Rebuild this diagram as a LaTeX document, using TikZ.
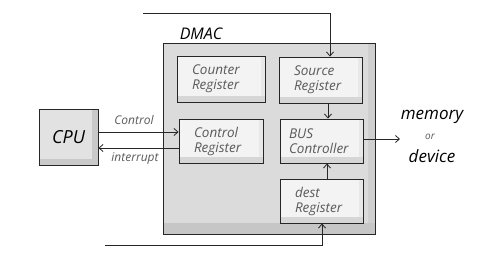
\documentclass[tikz,border=0pt]{standalone}
\usepackage{fontspec}
\setmainfont{Open Sans}
\usetikzlibrary{arrows.meta}
\definecolor{outerfill}{HTML}{DBDBDB}
\definecolor{outershade}{HTML}{C6C6C6}
\definecolor{outerright}{HTML}{CFCFCF}
\definecolor{innerfill}{HTML}{F3F3F3}
\definecolor{innershade}{HTML}{D6D6D6}
\definecolor{innerright}{HTML}{E8E8E8}
\definecolor{cpufill}{HTML}{E2E2E2}
\definecolor{cpushade}{HTML}{C9C9C9}
\definecolor{txtgray}{HTML}{5A5A5A}
\definecolor{linecol}{HTML}{262626}
\begin{document}
\begin{tikzpicture}[x=1pt,y=-1pt,
  boxline/.style={draw=linecol,line width=0.9pt},
  regbox/.style={boxline,fill=innerfill,align=left,
    font=\itshape\fontsize{13.5}{15}\selectfont,text=txtgray,inner ysep=0pt,
    path picture={
      \fill[innerright] ([xshift=-4pt]path picture bounding box.north east) rectangle (path picture bounding box.south east);
      \fill[innershade] (path picture bounding box.south west) rectangle ([yshift=6pt]path picture bounding box.south east);}},
  outerbox/.style={boxline,fill=outerfill,
    path picture={
      \fill[outerright] ([xshift=-7pt]path picture bounding box.north east) rectangle (path picture bounding box.south east);
      \fill[outershade] (path picture bounding box.south west) rectangle ([yshift=11pt]path picture bounding box.south east);}},
  cpubox/.style={boxline,fill=cpufill,font=\itshape\fontsize{18}{20}\selectfont,
    path picture={
      \fill[cpushade] ([xshift=-6pt]path picture bounding box.north east) rectangle (path picture bounding box.south east);
      \fill[cpushade] (path picture bounding box.south west) rectangle ([yshift=6pt]path picture bounding box.south east);}},
  conn/.style={draw=linecol,line width=0.8pt},
  arr/.style={conn,-{Straight Barb[length=4pt,width=7pt]}},
  lbl/.style={font=\itshape\fontsize{12}{14}\selectfont,text=txtgray,inner sep=1pt},
  big/.style={font=\itshape\fontsize{17}{19}\selectfont,inner sep=1pt}
]
\useasboundingbox (0,0) rectangle (489,258);

% outer DMAC box
\node[outerbox,minimum width=212pt,minimum height=191pt,inner sep=0pt] (dmac) at (269,138.5) {};
\node[font=\itshape\fontsize{16}{18}\selectfont,inner sep=1pt] (dmaclbl) at (201,34) {DMAC};

% registers
\node[regbox,minimum width=88pt,minimum height=46pt,inner xsep=15pt,text width=58pt] (cnt) at (221,79) {Counter\\Register};
\node[regbox,minimum width=83pt,minimum height=46pt,inner xsep=15pt,text width=53pt] (src) at (320.5,80) {Source\\Register};
\node[regbox,minimum width=84pt,minimum height=44pt,inner xsep=15pt,text width=54pt] (ctl) at (221,141) {Control\\Register};
\node[regbox,minimum width=83pt,minimum height=44pt,inner xsep=9pt,text width=65pt] (bus) at (321.5,141) {BUS\\Controller};
\node[regbox,minimum width=83pt,minimum height=44pt,inner xsep=15pt,text width=53pt] (dst) at (321.5,201) {dest\\Register};

% CPU
\node[cpubox,minimum width=59pt,minimum height=56pt,inner sep=0pt] (cpu) at (68.5,137) {CPU};

% memory or device
\node[big] (mem) at (432,117) {memory};
\node[font=\itshape\fontsize{10}{12}\selectfont,text=txtgray,inner sep=1pt] (ornode) at (430,137) {or};
\node[big] (dev) at (432,156) {device};
\coordinate (memin) at (400,139);

% labels
\node[lbl] (lctl) at (134,120) {Control};
\node[lbl] (lint) at (135,159) {interrupt};

% connectors
\coordinate (tin) at (143,13);
\coordinate (tcorner) at (330,13);
\draw[arr] (tin) -- (tcorner) -- (tcorner |- src.north);
\draw[arr] (src.south -| 328,0) -- (bus.north -| 328,0);
\draw[arr] (dst.north -| 327,0) -- (bus.south -| 327,0);
\coordinate (bin) at (105,245);
\coordinate (bcorner) at (322,245);
\draw[arr] (bin) -- (bcorner) -- (bcorner |- dst.south);
\draw[arr] (cpu.east |- 0,132) -- (ctl.west |- 0,132);
\draw[arr] (ctl.west |- 0,148) -- (cpu.east |- 0,148);
\draw[arr] (bus.east |- 0,139) -- (memin);
\end{tikzpicture}
\end{document}
